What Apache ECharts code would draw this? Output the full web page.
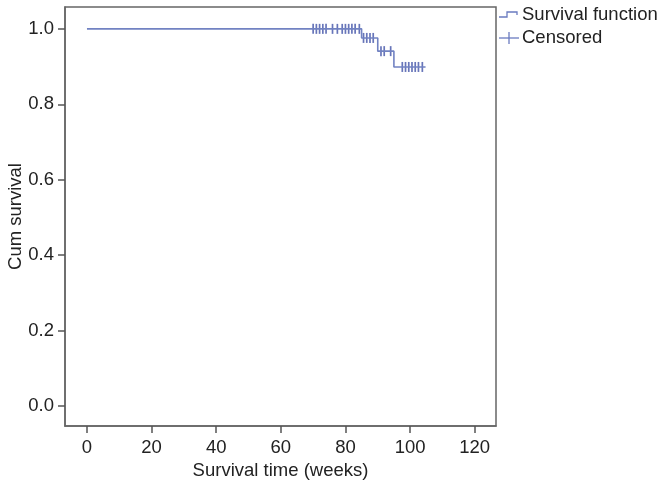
<!DOCTYPE html>
<html>
<head>
<meta charset="utf-8">
<script src="https://cdn.jsdelivr.net/npm/echarts@6/dist/echarts.min.js"></script>
<style>html,body{margin:0;padding:0;background:#fff}#c{width:665px;height:487px}</style>
</head>
<body>
<div id="c"></div>
<script>
// Kaplan-Meier step function
const stepTimes = [0, 85, 90, 95, 104.8];
const stepSurvival = [1.0, 0.976, 0.941, 0.899, 0.899];
// Censored observation times (weeks)
const censoredTimes = [70, 71, 72, 73, 74, 76, 77.5, 79, 80, 81, 82, 83, 84.3,
  85.6, 86.6, 87.6, 88.6, 91, 92, 94, 97.6, 98.6, 99.6, 100.6, 101.6, 102.6, 103.8];
const xTicks = [0, 20, 40, 60, 80, 100, 120];
const yTicks = [0, 0.2, 0.4, 0.6, 0.8, 1.0];

function survivalAt(t) {
  let s = stepSurvival[0];
  for (let i = 0; i < stepTimes.length; i++) { if (stepTimes[i] <= t) s = stepSurvival[i]; }
  return s;
}

const font = 'Liberation Sans, Arial, Helvetica, sans-serif';
const fs = 18.5;
const chart = echarts.init(document.getElementById('c'));
chart.setOption({
  animation: false,
  grid: { left: 65, right: 169, top: 7, bottom: 61, outerBoundsMode: 'none', containLabel: false,
    show: true, borderColor: '#666', borderWidth: 1.5, backgroundColor: 'transparent' },
  xAxis: {
    type: 'value', min: -6.8, max: 126.6,
    name: 'Survival time (weeks)', nameLocation: 'middle', nameGap: 35, nameMoveOverlap: false,
    nameTextStyle: { fontFamily: font, fontSize: fs, color: '#222' },
    splitLine: { show: false },
    axisLine: { show: true, onZero: false, lineStyle: { color: '#666', width: 1.5 } },
    axisTick: { show: true, customValues: xTicks, length: 7, lineStyle: { color: '#555', width: 1.5 } },
    axisLabel: { customValues: xTicks, fontFamily: font, fontSize: fs, color: '#222', margin: 12 }
  },
  yAxis: {
    type: 'value', min: -0.053, max: 1.058,
    name: 'Cum survival', nameLocation: 'middle', nameGap: 40, nameMoveOverlap: false,
    nameTextStyle: { fontFamily: font, fontSize: fs, color: '#222' },
    splitLine: { show: false },
    axisLine: { show: true, onZero: false, lineStyle: { color: '#666', width: 1.5 } },
    axisTick: { show: true, customValues: yTicks, length: 7, lineStyle: { color: '#555', width: 1.5 } },
    axisLabel: { customValues: yTicks, fontFamily: font, fontSize: fs, color: '#222', margin: 11,
      formatter: v => v.toFixed(1) }
  },
  series: [
    {
      type: 'line', step: 'end', showSymbol: false,
      data: stepTimes.map((t, i) => [t, stepSurvival[i]]),
      lineStyle: { color: '#7182c2', width: 1.6 }
    },
    {
      type: 'scatter', symbol: 'rect', symbolSize: [1.7, 10],
      data: censoredTimes.map(t => [t, survivalAt(t)]),
      itemStyle: { color: '#4152a8' }
    }
  ],
  graphic: [
    { type: 'polyline', shape: { points: [[499, 17], [507, 17], [507, 12], [517, 12], [517, 15]] }, style: { stroke: '#6a7bc0', lineWidth: 1.3, fill: null } },
    { type: 'text', x: 522, y: 15, style: { text: 'Survival function', font: fs + 'px ' + font, fill: '#222', verticalAlign: 'middle' } },
    { type: 'line', shape: { x1: 499, y1: 38, x2: 519, y2: 38 }, style: { stroke: '#6a7bc0', lineWidth: 1.3 } },
    { type: 'line', shape: { x1: 509, y1: 32, x2: 509, y2: 44 }, style: { stroke: '#6a7bc0', lineWidth: 1.3 } },
    { type: 'text', x: 522, y: 38, style: { text: 'Censored', font: fs + 'px ' + font, fill: '#222', verticalAlign: 'middle' } }
  ]
});
</script>
</body>
</html>
